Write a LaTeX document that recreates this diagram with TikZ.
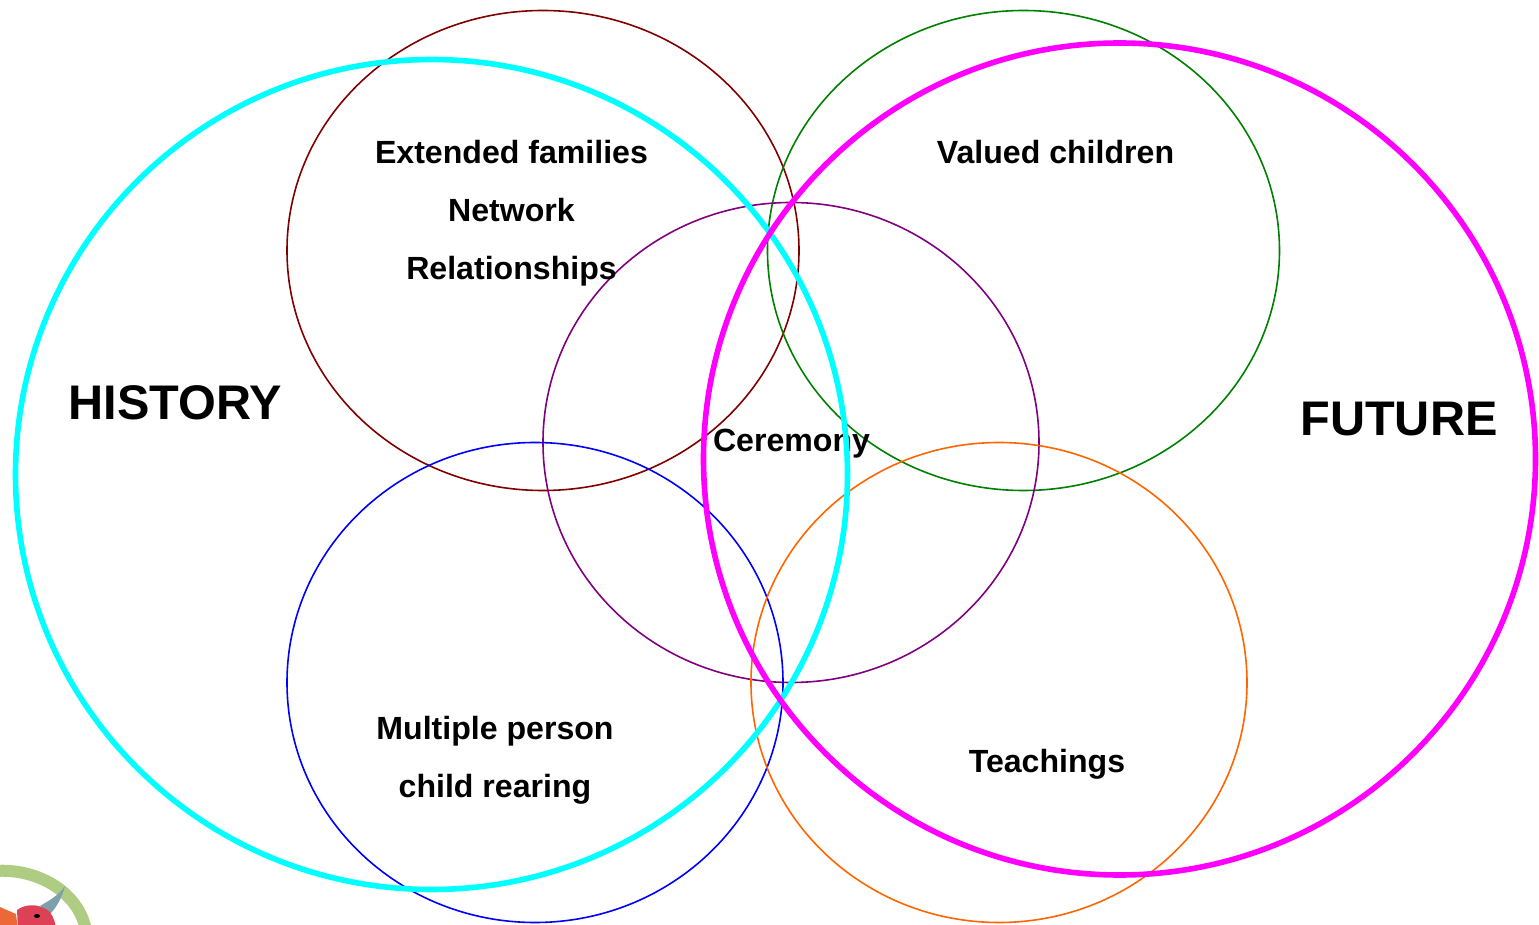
\documentclass[tikz,border=0pt]{standalone}
\usepackage{fontspec}
\setmainfont{Liberation Sans}
\definecolor{ringcyan}{RGB}{0,255,255}
\definecolor{ringmagenta}{RGB}{255,0,255}
\definecolor{ringred}{RGB}{128,0,0}
\definecolor{ringgreen}{RGB}{0,128,0}
\definecolor{ringpurple}{RGB}{128,0,128}
\definecolor{ringblue}{RGB}{0,0,255}
\definecolor{ringorange}{RGB}{255,102,0}
\definecolor{wreath}{RGB}{175,205,130}
\definecolor{headred}{RGB}{222,65,85}
\definecolor{earorange}{RGB}{235,105,55}
\definecolor{horngrey}{RGB}{125,160,170}
\tikzset{
    thinring/.style={line width=0.8pt},
    thickring/.style={line width=2.8pt},
    small/.style={font=\bfseries\fontsize{16.05}{18}\selectfont,anchor=base},
    big/.style={font=\bfseries\fontsize{24.3}{28}\selectfont,anchor=base}
}
\begin{document}
\begin{tikzpicture}[x=0.5pt,y=-0.5pt]
        \useasboundingbox (0,0) rectangle (1539,925);
        % emblem in the corner
        \begin{scope}
            \clip (0,0) rectangle (1539,925);
            \draw[wreath,line width=6pt] (-5,871) .. controls (35,868) and (78,890) .. (86,930);
            \fill[horngrey] (65,886) .. controls (58,896) and (50,900) .. (40,906) -- (50,914) .. controls (56,908) and (62,898) .. (65,886);
            \fill[earorange] (0,907) -- (16,914) -- (18,930) -- (0,930) -- cycle;
            \fill[headred] (17,910) .. controls (28,902) and (42,905) .. (50,912) .. controls (54,918) and (56,925) .. (56,930) -- (18,930) -- cycle;
            \fill[black] (37,916) ellipse [x radius=3,y radius=2];
        \end{scope}
        % thin rings
        \draw[ringred,thinring] (543,250.5) ellipse [x radius=256,y radius=240];
        \draw[ringgreen,thinring] (1023.5,250.5) ellipse [x radius=256,y radius=240];
        \draw[ringpurple,thinring] (791,442.5) ellipse [x radius=248,y radius=240];
        \draw[ringblue,thinring] (535,682.5) ellipse [x radius=248,y radius=240];
        \draw[ringorange,thinring] (999,682.5) ellipse [x radius=248,y radius=240];
        % labels
        \node[small] (extended) at (511.5,164) {Extended families};
        \node[small] (network) at (511.5,222) {Network};
        \node[small] (relations) at (511.5,280) {Relationships};
        \node[small] (valued) at (1055.5,164) {Valued children};
        \node[small] (ceremony) at (791.5,452) {Ceremony};
        \node[small] (multiple) at (495,740) {Multiple person};
        \node[small] (rearing) at (495,797) {child rearing};
        \node[small] (teachings) at (1047,772) {Teachings};
        \node[big] (history) at (175.5,420) {HISTORY};
        \node[big] (future) at (1399,436) {FUTURE};
        % thick rings
        \draw[ringcyan,thickring] (431.5,474.5) ellipse [x radius=416,y radius=415];
        \draw[ringmagenta,thickring] (1119.5,459) ellipse [x radius=416,y radius=416];
    \end{tikzpicture}
\end{document}
